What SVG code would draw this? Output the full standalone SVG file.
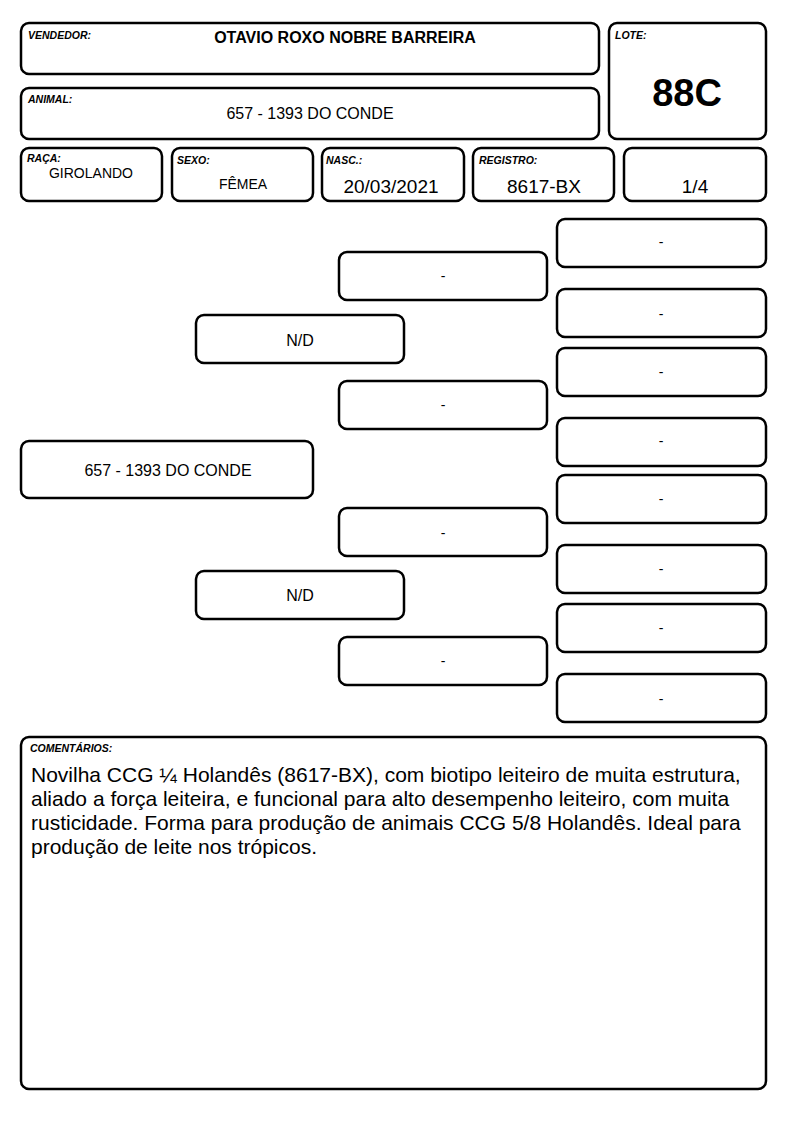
<svg xmlns="http://www.w3.org/2000/svg" width="794" height="1123" viewBox="0 0 794 1123">
<style>
rect.b{fill:#fff;stroke:#000;stroke-width:2.5}
text{font-family:"Liberation Sans",Arial,sans-serif;fill:#000}
.lbl{font-size:10.5px;font-weight:bold;font-style:italic}
.c{text-anchor:middle}
.d{font-size:14px;text-anchor:middle}
.v{font-size:16px;text-anchor:middle}
.m{font-size:19px;text-anchor:middle}
</style>
<rect width="794" height="1123" fill="#fff"/>
<g id="vendedor"><rect class="b" x="21" y="23" width="578" height="51" rx="8"/><text class="lbl" x="28" y="39">VENDEDOR:</text><text x="345" y="43" font-size="16" font-weight="bold" class="c">OTAVIO ROXO NOBRE BARREIRA</text></g>
<g id="animal"><rect class="b" x="21" y="88" width="578" height="51" rx="8"/><text class="lbl" x="28" y="103">ANIMAL:</text><text class="v" x="310" y="119">657 - 1393 DO CONDE</text></g>
<g id="lote"><rect class="b" x="609" y="23" width="157" height="116" rx="8"/><text class="lbl" x="615" y="39">LOTE:</text><text x="687" y="106" font-size="38" font-weight="bold" class="c">88C</text></g>
<g id="raca"><rect class="b" x="21" y="148" width="141" height="53" rx="8"/><text class="lbl" x="27" y="162">RAÇA:</text><text class="d" x="91" y="178">GIROLANDO</text></g>
<g id="sexo"><rect class="b" x="172" y="148" width="141" height="53" rx="8"/><text class="lbl" x="177" y="164">SEXO:</text><text class="d" x="243" y="189">FÊMEA</text></g>
<g id="nasc"><rect class="b" x="322" y="148" width="142" height="53" rx="8"/><text class="lbl" x="326" y="164">NASC.:</text><text class="m" x="391" y="193">20/03/2021</text></g>
<g id="registro"><rect class="b" x="473" y="148" width="141" height="53" rx="8"/><text class="lbl" x="479" y="164">REGISTRO:</text><text class="m" x="544" y="193">8617-BX</text></g>
<g id="fracao"><rect class="b" x="624" y="148" width="142" height="53" rx="8"/><text class="m" x="695" y="193">1/4</text></g>
<g id="connectors"></g>
<g id="p-animal"><rect class="b" x="21" y="441" width="292" height="57" rx="8"/><text class="v" x="168" y="476">657 - 1393 DO CONDE</text></g>
<g id="g1-1"><rect class="b" x="196" y="315" width="208" height="48" rx="8"/><text class="v" x="300" y="346">N/D</text></g>
<g id="g1-2"><rect class="b" x="196" y="571" width="208" height="48" rx="8"/><text class="v" x="300" y="601">N/D</text></g>
<g id="g2-1"><rect class="b" x="339" y="252" width="208" height="48" rx="8"/><text class="d" x="443" y="281">-</text></g>
<g id="g2-2"><rect class="b" x="339" y="381" width="208" height="48" rx="8"/><text class="d" x="443" y="410">-</text></g>
<g id="g2-3"><rect class="b" x="339" y="508" width="208" height="48" rx="8"/><text class="d" x="443" y="538">-</text></g>
<g id="g2-4"><rect class="b" x="339" y="637" width="208" height="48" rx="8"/><text class="d" x="443" y="666">-</text></g>
<g id="g3-1"><rect class="b" x="557" y="219" width="209" height="48" rx="8"/><text class="d" x="661" y="247">-</text></g>
<g id="g3-2"><rect class="b" x="557" y="289" width="209" height="48" rx="8"/><text class="d" x="661" y="319">-</text></g>
<g id="g3-3"><rect class="b" x="557" y="348" width="209" height="48" rx="8"/><text class="d" x="661" y="377">-</text></g>
<g id="g3-4"><rect class="b" x="557" y="418" width="209" height="48" rx="8"/><text class="d" x="661" y="446">-</text></g>
<g id="g3-5"><rect class="b" x="557" y="475" width="209" height="48" rx="8"/><text class="d" x="661" y="504">-</text></g>
<g id="g3-6"><rect class="b" x="557" y="545" width="209" height="48" rx="8"/><text class="d" x="661" y="574">-</text></g>
<g id="g3-7"><rect class="b" x="557" y="604" width="209" height="48" rx="8"/><text class="d" x="661" y="633">-</text></g>
<g id="g3-8"><rect class="b" x="557" y="674" width="209" height="48" rx="8"/><text class="d" x="661" y="704">-</text></g>
<g id="comentarios"><rect class="b" x="21" y="737" width="745" height="352" rx="8"/><text class="lbl" x="30" y="752" font-size="10">COMENTÁRIOS:</text>
<text font-size="21"><tspan x="31" y="782">Novilha CCG ¼ Holandês (8617-BX), com biotipo leiteiro de muita estrutura,</tspan><tspan x="31" y="806">aliado a força leiteira, e funcional para alto desempenho leiteiro, com muita</tspan><tspan x="31" y="830">rusticidade. Forma para produção de animais CCG 5/8 Holandês. Ideal para</tspan><tspan x="31" y="854">produção de leite nos trópicos.</tspan></text></g>
</svg>
